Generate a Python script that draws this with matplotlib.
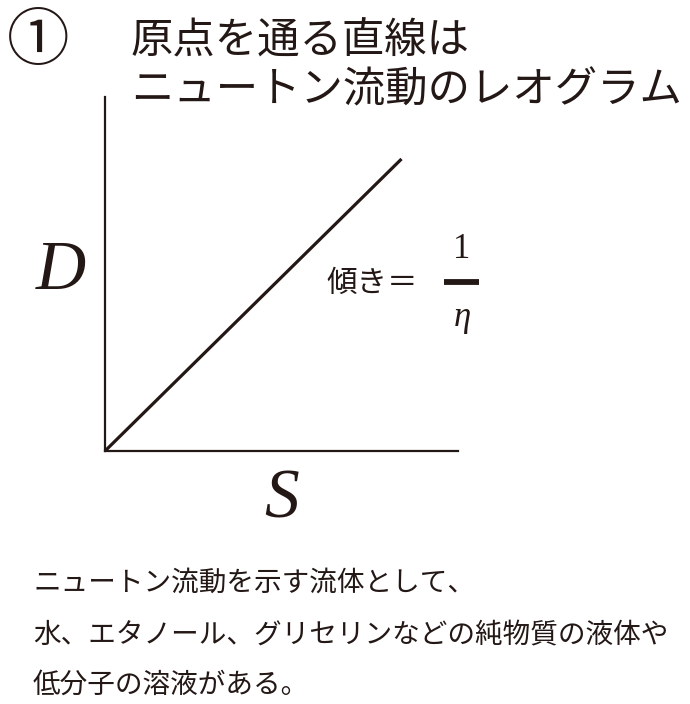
import matplotlib.pyplot as plt
from matplotlib.lines import Line2D

plt.rcParams['font.family'] = ['Noto Sans CJK JP', 'DejaVu Sans']

# data
line_x = [0.0, 0.84]
line_y = [0.0, 0.825]
title_lines = ["原点を通る直線は", "ニュートン流動のレオグラム"]
body_lines = [
    "ニュートン流動を示す流体として、",
    "水、エタノール、グリセリンなどの純物質の液体や",
    "低分子の溶液がある。",
]
x_label = "S"
y_label = "D"
slope_label = "傾き＝"

W, H = 690, 704
ink = "#231815"

fig = plt.figure(figsize=(W / 100, H / 100), dpi=100)


def px(x, y):
    # pixel coords (from top left) to figure fraction
    return x / W, 1 - y / H


# diagram axes, origin at (105, 451)
ax = fig.add_axes([105 / W, 1 - 451 / H, 353 / W, 354 / H])
ax.plot(line_x, line_y, color=ink, lw=2.3, solid_capstyle='butt', clip_on=False)
ax.set_xlim(0, 1)
ax.set_ylim(0, 1)
for s in ['top', 'right']:
    ax.spines[s].set_visible(False)
for s in ['left', 'bottom']:
    ax.spines[s].set_color(ink)
    ax.spines[s].set_linewidth(1.6)
ax.set_xticks([])
ax.set_yticks([])
ax.patch.set_alpha(0)

# header
fig.text(*px(38, 42), "①", fontsize=45, ha='center', va='center', color=ink)
fig.text(*px(131, 42), title_lines[0], fontsize=30.5, ha='left', va='center', color=ink)
fig.text(*px(131, 90), title_lines[1], fontsize=30.5, ha='left', va='center', color=ink)

# axis labels
serif_it = dict(family='Liberation Serif', style='italic', color=ink)
fig.text(*px(61, 272), y_label, fontsize=50, ha='center', va='center', **serif_it)
fig.text(*px(282, 501), x_label, fontsize=50, ha='center', va='center', **serif_it)

# slope annotation
fig.text(*px(326, 283), slope_label, fontsize=22, ha='left', va='center', color=ink)
fig.text(*px(462, 250), "1", fontsize=25, ha='center', va='center',
         family='Liberation Serif', color=ink)
x0, y0 = px(444, 282)
x1, _ = px(479, 282)
fig.add_artist(Line2D([x0, x1], [y0, y0], color=ink, lw=4.2, solid_capstyle='butt'))
fig.text(*px(462, 318), "η", fontsize=25, ha='center', va='center', **serif_it)

# body text
for i, t in enumerate(body_lines):
    fig.text(*px(33, 583 + 51 * i), t, fontsize=19.9, ha='left', va='center', color=ink)

fig.savefig("out.png", dpi=100, facecolor='white')
